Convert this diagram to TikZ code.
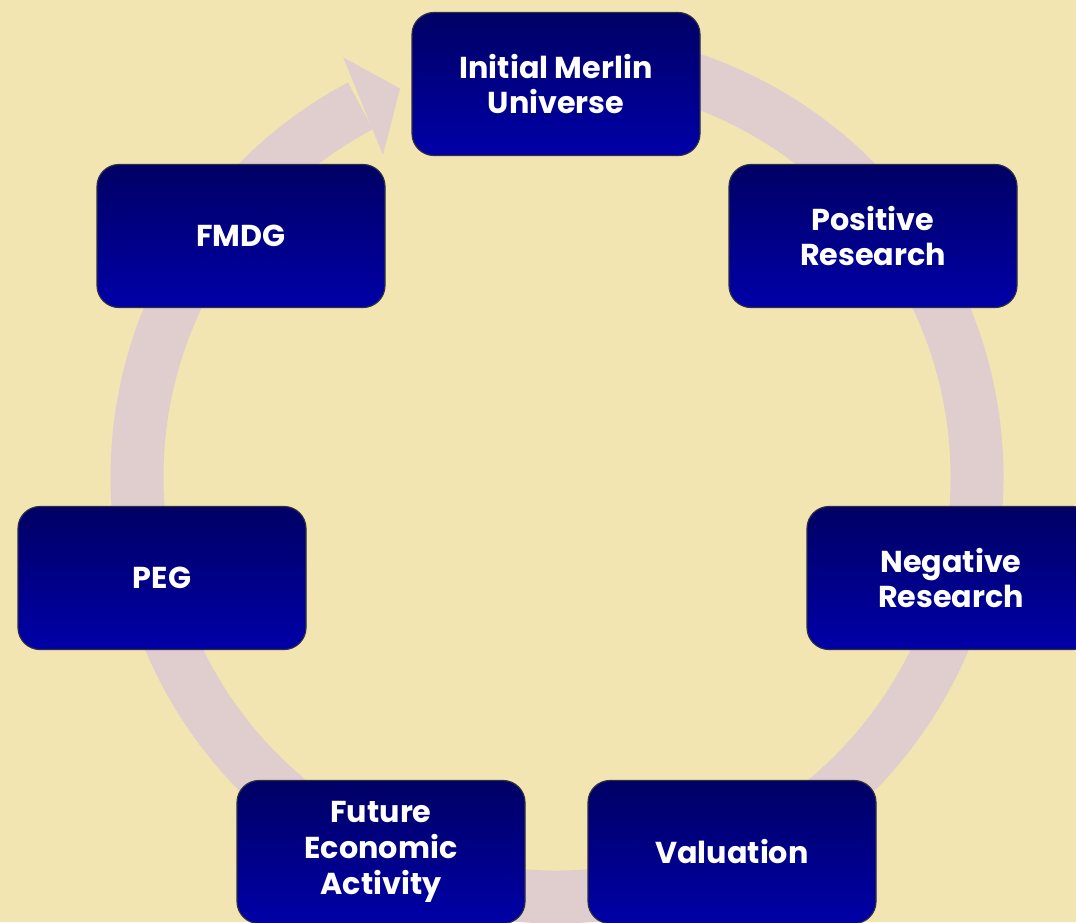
\documentclass[tikz,border=0pt]{standalone}
\usepackage{fontspec}
\setmainfont{Poppins}
\definecolor{paper}{RGB}{243,229,178}
\definecolor{ringc}{RGB}{224,206,206}
\definecolor{navytop}{RGB}{0,0,100}
\definecolor{navybot}{RGB}{0,0,168}
\definecolor{boxrim}{RGB}{45,45,70}
\begin{document}
\begin{tikzpicture}[x=0.1mm,y=0.1mm,
        stage/.style={rectangle,rounded corners=2.2mm,minimum width=28.8mm,minimum height=14.3mm,
            top color=navytop,bottom color=navybot,draw=boxrim,line width=0.12mm,
            text=white,font=\fontsize{8.6}{10.2}\selectfont\bfseries,align=center,inner sep=0pt}]
        \useasboundingbox (0,0) rectangle (1076,922);
        \fill[paper] (0,0) rectangle (1076,922);
        % the cycle ring with its head
        \begin{scope}[shift={(557,445)}]
            \draw[ringc,line width=5.3mm] (95:420) arc[start angle=95,end angle=-242.1,radius=420];
            \fill[ringc] (117:471) -- (112:419) -- (118.4:366) -- cycle;
        \end{scope}
        \foreach \name/\x/\y/\stagetext in {merlin/556/838/{Initial Merlin\\Universe},
            positive/873/686/{Positive\\Research}, negative/951/344/{Negative\\Research},
            valuation/732/70/{Valuation}, future/381/70/{Future\\Economic\\Activity},
            peg/162/344/{PEG}, fmdg/241/686/{FMDG}}
        \node[stage] (\name) at (\x,\y) {\stagetext};
    \end{tikzpicture}
\end{document}
